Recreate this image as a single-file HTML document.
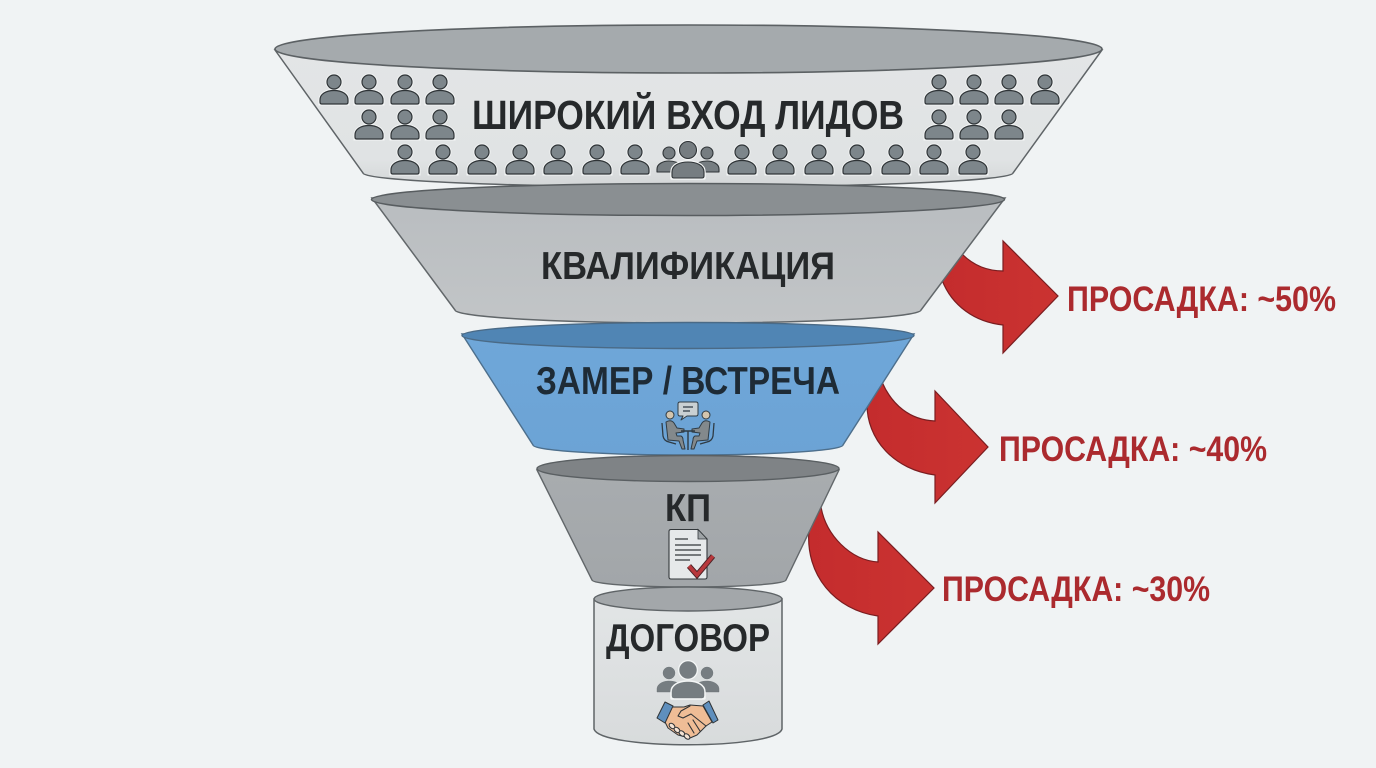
<!DOCTYPE html>
<html lang="ru">
<head>
<meta charset="utf-8">
<title>Воронка лидов</title>
<style>
html,body{margin:0;padding:0;background:#f0f3f4;width:1376px;height:768px;overflow:hidden}
svg{display:block}
text{font-family:"Liberation Sans","Noto Sans CJK SC",sans-serif;font-weight:700}
.dark{fill:#26292b}
.red{fill:#ab2a2e}
</style>
</head>
<body>
<svg width="1376" height="768" viewBox="0 0 1376 768" xmlns="http://www.w3.org/2000/svg">
<defs>
<linearGradient id="b1" x1="0" y1="0" x2="0" y2="1"><stop offset="0" stop-color="#e3e5e6"/><stop offset=".8" stop-color="#e0e3e4"/><stop offset="1" stop-color="#d3d6d7"/></linearGradient>
<linearGradient id="b2" x1="0" y1="0" x2="0" y2="1"><stop offset="0" stop-color="#b9bdc0"/><stop offset="1" stop-color="#c2c5c7"/></linearGradient>
<linearGradient id="b3" x1="0" y1="0" x2="0" y2="1"><stop offset="0" stop-color="#6fa7d9"/><stop offset="1" stop-color="#6ca3d5"/></linearGradient>
<linearGradient id="b4" x1="0" y1="0" x2="0" y2="1"><stop offset="0" stop-color="#a8acaf"/><stop offset="1" stop-color="#a2a6a9"/></linearGradient>
<linearGradient id="b5" x1="0" y1="0" x2="0" y2="1"><stop offset="0" stop-color="#e2e5e6"/><stop offset="1" stop-color="#d8dbdc"/></linearGradient>
<linearGradient id="r" x1="0" y1="0" x2="1" y2="0"><stop offset="0" stop-color="#c42c2d"/><stop offset="1" stop-color="#cb3331"/></linearGradient>
<g id="p">
  <circle cx="0" cy="0" r="8.500" fill="#f4f6f6"/>
  <path d="M-14,22 V18 C-14,12 -8,8.500 0,8.500 C8,8.500 14,12 14,18 V22 Z" fill="#7d868b" stroke="#f4f6f6" stroke-width="3"/>
  <circle cx="0" cy="0" r="7" fill="#7d868b" stroke="#2f3437" stroke-width="1.200"/>
  <path d="M-12.500,22 Q-14,22 -14,20 V18 C-14,12 -8,8.500 0,8.500 C8,8.500 14,12 14,18 V20 Q14,22 12.500,22 Z" fill="#7d868b" stroke="#2f3437" stroke-width="1.200"/>
</g>
<g id="grp" stroke-linejoin="round">
  <circle cx="-19" cy="3" r="6" fill="#767d81" stroke="currentColor"/>
  <circle cx="19" cy="3" r="6" fill="#767d81" stroke="currentColor"/>
  <path d="M-31,22 V19 C-31,14 -25,11 -19,11 C-13,11 -9,13 -6,16 L-9,22 Z" fill="#767d81" stroke="currentColor"/>
  <path d="M31,22 V19 C31,14 25,11 19,11 C13,11 9,13 6,16 L9,22 Z" fill="#767d81" stroke="currentColor"/>
  <circle cx="0" cy="0" r="10" fill="#f4f6f6"/>
  <path d="M-16,28 V22 C-16,15 -8,12 0,12 C8,12 16,15 16,22 V28 Z" fill="#f4f6f6" stroke="#f4f6f6" stroke-width="3.500"/>
  <circle cx="0" cy="0" r="8.500" fill="#767d81" stroke="currentColor"/>
  <path d="M-14,28 Q-16,28 -16,26 V22 C-16,15 -8,12 0,12 C8,12 16,15 16,22 V26 Q16,28 14,28 Z" fill="#767d81" stroke="currentColor"/>
</g>
</defs>

<rect width="1376" height="768" fill="#f0f3f4"/>

<!-- arrows -->
<g fill="url(#r)" stroke="#7a1d20" stroke-width="1.200" stroke-linejoin="miter">
  <path d="M962,254 C972,264 985,271 1003,271 L1003,241 L1058,296 L1003,353 L1003,325 C975,322 952,306 942,280 Z"/>
  <path d="M882,382 C892,405 910,420 935,421 L935,391 L988,447 L935,503 L935,475 C895,470 866,440 867,402 Z"/>
  <path d="M821,507 C826,535 850,560 878,562 L878,532 L934,588 L878,644 L878,616 C835,610 805,575 809,530 Z"/>
</g>

<!-- stage 1 -->
<path d="M275,50 L363,173 A325,14 0 0 0 1013,173 L1102,50 Z" fill="url(#b1)" stroke="#5f6467" stroke-width="1.500"/>
<ellipse cx="688.500" cy="49" rx="413.500" ry="24" fill="#a5aaad" stroke="#5c6164" stroke-width="1.600"/>
<text x="472" y="129" font-size="41" class="dark" textLength="432" lengthAdjust="spacingAndGlyphs">ШИРОКИЙ ВХОД ЛИДОВ</text>
<g>
  <use href="#p" x="334" y="82"/><use href="#p" x="369" y="82"/><use href="#p" x="405" y="82"/><use href="#p" x="440" y="82"/>
  <use href="#p" x="369" y="117"/><use href="#p" x="405" y="117"/><use href="#p" x="440" y="117"/>
  <use href="#p" x="405" y="152"/><use href="#p" x="443" y="152"/><use href="#p" x="482" y="152"/><use href="#p" x="520" y="152"/><use href="#p" x="558" y="152"/><use href="#p" x="597" y="152"/><use href="#p" x="635" y="152"/>
  <use href="#p" x="939" y="82"/><use href="#p" x="974" y="82"/><use href="#p" x="1009" y="82"/><use href="#p" x="1045" y="82"/>
  <use href="#p" x="939" y="117"/><use href="#p" x="974" y="117"/><use href="#p" x="1009" y="117"/>
  <use href="#p" x="742" y="152"/><use href="#p" x="780" y="152"/><use href="#p" x="819" y="152"/><use href="#p" x="857" y="152"/><use href="#p" x="896" y="152"/><use href="#p" x="934" y="152"/><use href="#p" x="973" y="152"/>
  <use href="#grp" x="688" y="150" color="#2f3437" stroke-width="1.100"/>
</g>

<!-- stage 2 -->
<path d="M372,198 L455,310 A233,13 0 0 0 921,310 L1005,198 Z" fill="url(#b2)" stroke="#62676a" stroke-width="1.500"/>
<ellipse cx="688" cy="199.500" rx="316.500" ry="16" fill="#8a8f92" stroke="#585d60" stroke-width="1.500"/>
<text x="541" y="279" font-size="39" class="dark" textLength="294" lengthAdjust="spacingAndGlyphs">КВАЛИФИКАЦИЯ</text>

<!-- stage 3 -->
<path d="M462,334 L533,445 A155,10 0 0 0 843,445 L914,334 Z" fill="url(#b3)" stroke="#4d6f8c" stroke-width="1.400"/>
<ellipse cx="688" cy="335.500" rx="226" ry="13" fill="#5085b4" stroke="#4a6a86" stroke-width="1.400"/>
<text x="536" y="394" font-size="39" fill="#1e2b36" textLength="304" lengthAdjust="spacingAndGlyphs">ЗАМЕР / ВСТРЕЧА</text>
<!-- meeting icon -->
<g stroke="#2f3b44" stroke-width="1" stroke-linejoin="round">
  <path d="M680,402 H696 Q698,402 698,404 V414 Q698,416 696,416 H687 L681,420 L683,416 H680 Q678,416 678,414 V404 Q678,402 680,402 Z" fill="#c9d0d3"/>
  <path d="M683,407 H693 M683,411 H690" stroke-width="1.300" fill="none"/>
  <circle cx="670" cy="415" r="4" fill="#d3c5ae"/>
  <circle cx="706" cy="415" r="4" fill="#d3c5ae"/>
  <g id="seat">
    <path d="M666,422 Q671,419 674,423 L677,428 L684,429 V432 L676,433 L677,436 H681 Q683,437 683,440 L685,449 H682 L679,441 L668,440 Z" fill="#83898c"/>
    <path d="M662,423 L663,436 Q664,441 669,442 L676,444" fill="none" stroke-width="1.300"/>
  </g>
  <use href="#seat" transform="translate(1376,0) scale(-1,1)"/>
  <path d="M681,431 H695 M688,431 V450" fill="none" stroke-width="1.400"/>
</g>

<!-- stage 4 -->
<path d="M537,470 L592,580 A97,7 0 0 0 786,580 L839,470 Z" fill="url(#b4)" stroke="#62676a" stroke-width="1.400"/>
<ellipse cx="688" cy="468.500" rx="151" ry="13" fill="#7f8386" stroke="#5a5f62" stroke-width="1.400"/>
<text x="665" y="521" font-size="39" class="dark" textLength="46" lengthAdjust="spacingAndGlyphs">КП</text>
<!-- doc icon -->
<path d="M671,529.500 H698 L707,539 V577 Q707,579 705,579 H671 Q669,579 669,577 V531.500 Q669,529.500 671,529.500 Z" fill="#e6e9ea" stroke="#33383b" stroke-width="1.100"/>
<path d="M698,529.500 V539 H707 Z" fill="#9ea3a6" stroke="#33383b" stroke-width=".8"/>
<path d="M675,539 H688 M675,545 H701 M675,550 H701 M675,555 H701 M675,560 H690" stroke="#33383b" stroke-width="1.200" fill="none"/>
<path d="M689,566 L697,575 L713,556" fill="none" stroke="#4d2326" stroke-width="5.500" stroke-linejoin="miter"/>
<path d="M689,566 L697,575 L713,556" fill="none" stroke="#b8383c" stroke-width="3.600" stroke-linejoin="miter"/>

<!-- cylinder -->
<path d="M594,599 V729 C600,750 776,750 782,729 V599 Z" fill="url(#b5)" stroke="#5f6467" stroke-width="1.500"/>
<ellipse cx="688" cy="599" rx="94" ry="12" fill="#a3a7aa" stroke="#5f6467" stroke-width="1.400"/>
<text x="606" y="651" font-size="39" class="dark" textLength="164" lengthAdjust="spacingAndGlyphs">ДОГОВОР</text>
<use href="#grp" x="688" y="670" color="#6a7175" stroke-width=".4"/>
<!-- handshake -->
<g stroke="#2f3336" stroke-width="1" stroke-linejoin="round" stroke-linecap="round">
  <path d="M672,707 L684,707 L690,705 L703,706 L712,722 L706,726 L697,735 L690,738 L678,735 L668,728 L665,722 Z" fill="#efbd96"/>
  <path d="M690,706 L681,711 L678,716 L683,718 L691,714 L706,726 M693,720 L700,731 M688,723 L694,733" fill="none" stroke-width="1.100"/>
  <g fill="#f4e3d4">
    <ellipse cx="672" cy="726" rx="3.300" ry="2.200" transform="rotate(40 672 726)"/>
    <ellipse cx="677" cy="730" rx="3.300" ry="2.200" transform="rotate(40 677 730)"/>
    <ellipse cx="682" cy="733.500" rx="3.300" ry="2.200" transform="rotate(40 682 733.500)"/>
    <ellipse cx="687" cy="736.500" rx="3.300" ry="2.200" transform="rotate(40 687 736.500)"/>
  </g>
  <path d="M665,702 L673,706 L665,723 L657,718 Z" fill="#5f8fbd"/>
  <path d="M709,701 L703,705 L713,723 L718,720 Z" fill="#5f8fbd"/>
</g>

<!-- labels -->
<text x="1067" y="311" font-size="35" class="red" textLength="269" lengthAdjust="spacingAndGlyphs">ПРОСАДКА: ~50%</text>
<text x="999" y="461" font-size="35" class="red" textLength="268" lengthAdjust="spacingAndGlyphs">ПРОСАДКА: ~40%</text>
<text x="942" y="601" font-size="35" class="red" textLength="268" lengthAdjust="spacingAndGlyphs">ПРОСАДКА: ~30%</text>
</svg>
</body>
</html>
